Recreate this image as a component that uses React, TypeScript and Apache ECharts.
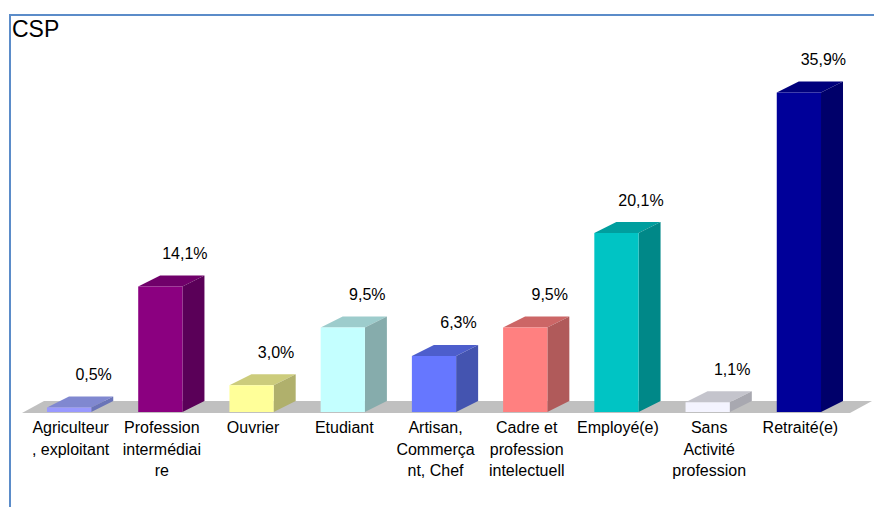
import React, { useEffect, useRef } from "react";
import * as echarts from "echarts";

const categories = [
  "Agriculteur\n, exploitant",
  "Profession\nintermédiai\nre",
  "Ouvrier",
  "Etudiant",
  "Artisan,\nCommerça\nnt, Chef",
  "Cadre et\nprofession\nintelectuell",
  "Employé(e)",
  "Sans\nActivité\nprofession",
  "Retraité(e)",
];
const values = [0.5, 14.1, 3.0, 9.5, 6.3, 9.5, 20.1, 1.1, 35.9];
const labels = ["0,5%", "14,1%", "3,0%", "9,5%", "6,3%", "9,5%", "20,1%", "1,1%", "35,9%"];
const frontColors = ["#9999ff", "#8b0080", "#ffff99", "#c4ffff", "#6677ff", "#ff8080", "#00c4c4", "#f4f4ff", "#000099"];
const topColors = ["#8088d0", "#70006a", "#cccc7c", "#9dcccc", "#4d5ecc", "#cc6666", "#009e9e", "#c4c4cc", "#00007c"];
const sideColors = ["#6a74b8", "#5a0058", "#b0b06c", "#86acac", "#4454b0", "#b05a5a", "#008888", "#a8a8b0", "#00006a"];

const DX = 22;
const DY = -11;
const FONT = "'Liberation Sans', Arial, sans-serif";

export default function App() {
  const ref = useRef<HTMLDivElement>(null);
  useEffect(() => {
    const chart = echarts.init(ref.current!, null, { renderer: "svg" });
    chart.setOption({
      animation: false,
      backgroundColor: "#ffffff",
      title: {
        text: "CSP",
        left: 7,
        top: 12,
        textStyle: { fontFamily: FONT, fontSize: 23, fontWeight: "normal", color: "#000000" },
      },
      grid: { left: 23.5, right: 29.5, top: 56, bottom: 95 },
      xAxis: {
        type: "category",
        data: categories,
        axisLine: { show: false },
        axisTick: { show: false },
        axisLabel: {
          interval: 0,
          margin: 5,
          padding: [0, 0, 0, 3],
          fontFamily: FONT,
          fontSize: 16,
          lineHeight: 21.5,
          color: "#000000",
          verticalAlign: "top",
        },
      },
      yAxis: { type: "value", min: 0, max: 40, show: false },
      graphic: [
        { type: "line", shape: { x1: 9, y1: 15, x2: 874, y2: 15 }, style: { stroke: "#5b8cc9", lineWidth: 2 } },
        { type: "line", shape: { x1: 10, y1: 15, x2: 10, y2: 507 }, style: { stroke: "#5b8cc9", lineWidth: 2 } },
      ],
      series: [
        {
          type: "custom",
          silent: true,
          z: 1,
          data: [0],
          renderItem: (params: any, api: any) => {
            const cs = params.coordSys;
            const y = cs.y + cs.height;
            return {
              type: "polygon",
              shape: {
                points: [
                  [cs.x - 1.5, y + 1],
                  [cs.x + DX - 1.5, y + DY],
                  [cs.x + cs.width + 27.5, y + DY],
                  [cs.x + cs.width + 5.5, y + 1],
                ],
              },
              style: { fill: "#c0c0c0" },
            };
          },
        },
        {
          type: "custom",
          silent: true,
          z: 2,
          data: values.map((v, i) => [i, v]),
          encode: { x: 0, y: 1 },
          renderItem: (params: any, api: any) => {
            const i = api.value(0);
            const top = api.coord([i, api.value(1)]);
            const base = api.coord([i, 0]);
            const w = api.size([1, 0])[0] * 0.485;
            const l = top[0] - w / 2;
            const r = top[0] + w / 2;
            return {
              type: "group",
              children: [
                {
                  type: "polygon",
                  shape: { points: [[l, top[1]], [l + DX, top[1] + DY], [r + DX, top[1] + DY], [r, top[1]]] },
                  style: { fill: topColors[i] },
                },
                {
                  type: "polygon",
                  shape: { points: [[r, top[1]], [r + DX, top[1] + DY], [r + DX, base[1] + DY], [r, base[1]]] },
                  style: { fill: sideColors[i] },
                },
                {
                  type: "rect",
                  shape: { x: l, y: top[1], width: w, height: base[1] - top[1] },
                  style: { fill: frontColors[i] },
                },
                {
                  type: "text",
                  x: top[0] + 24.5,
                  y: top[1] - 33,
                  style: {
                    text: labels[i],
                    fontFamily: FONT,
                    fontSize: 16,
                    fill: "#000000",
                    align: "center",
                    verticalAlign: "middle",
                  },
                },
              ],
            };
          },
        },
      ],
    });
    return () => chart.dispose();
  }, []);
  return <div ref={ref} style={{ position: "fixed", left: 0, top: 0, width: 874, height: 507 }} />;
}
